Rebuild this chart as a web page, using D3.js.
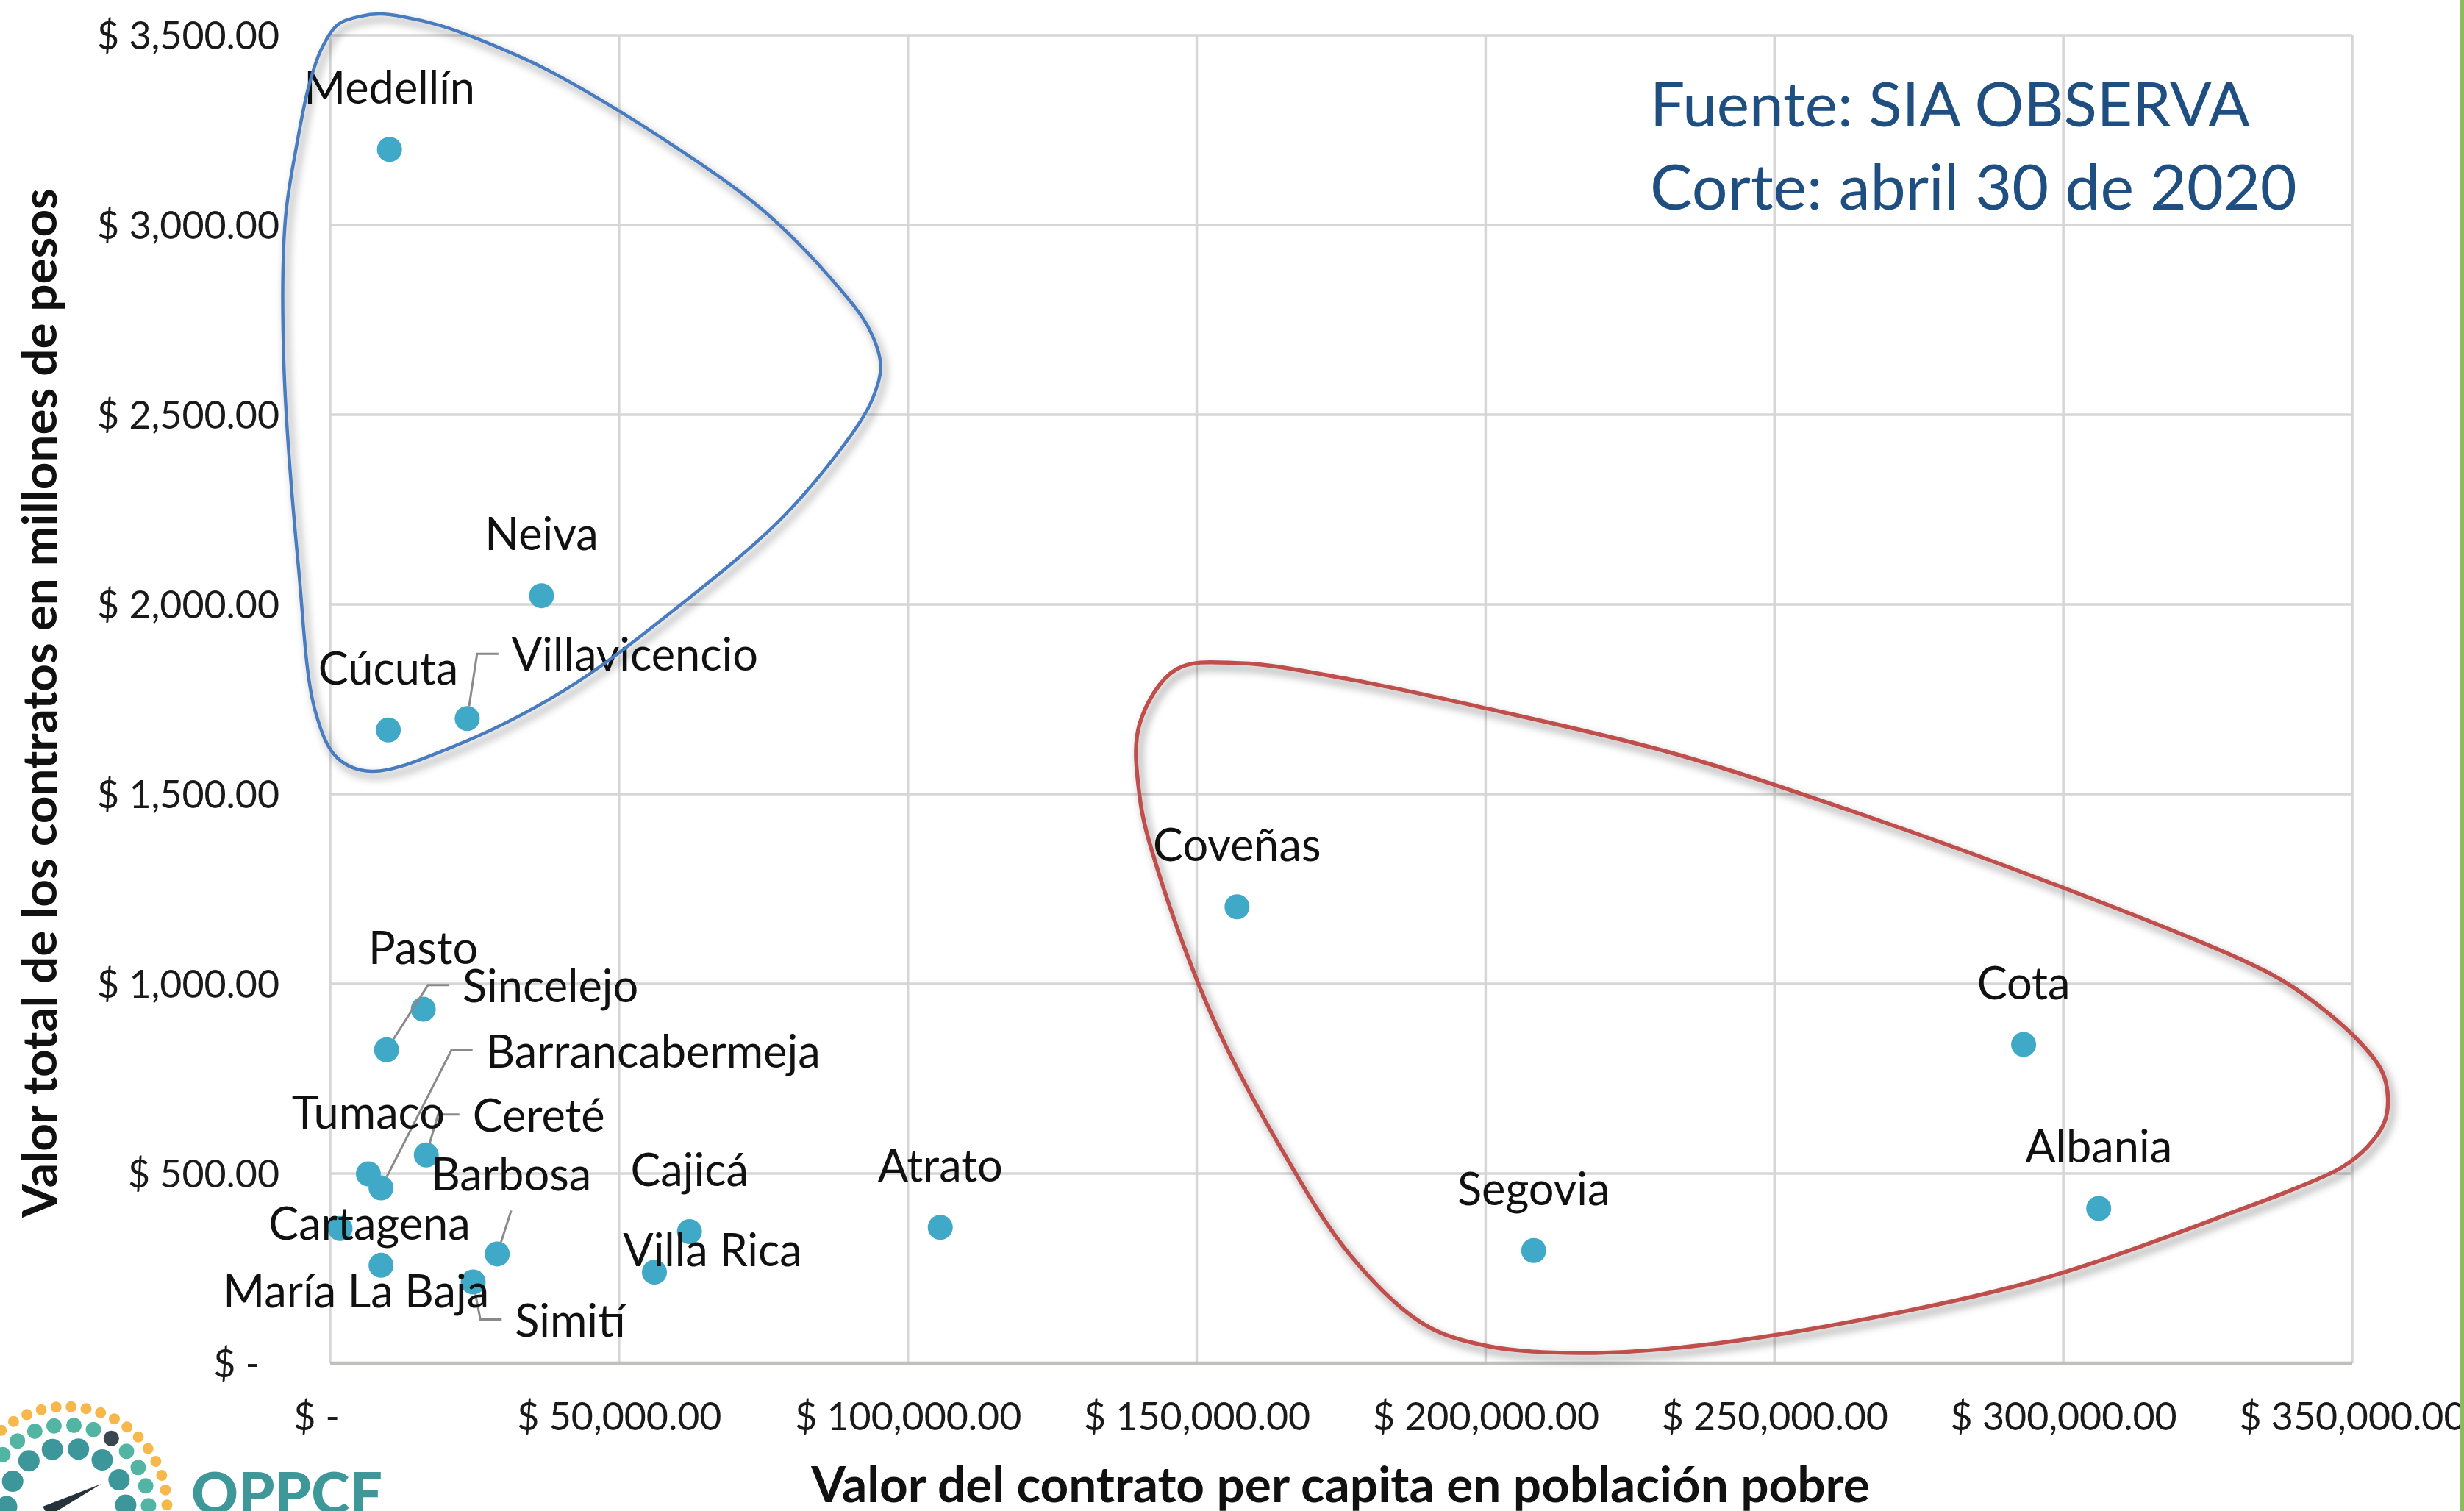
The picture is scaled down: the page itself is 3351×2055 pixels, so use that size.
<!DOCTYPE html>
<html><head><meta charset="utf-8">
<script src="https://cdn.jsdelivr.net/npm/d3@7"></script>
<style>
html,body{margin:0;padding:0;background:#fff;}
svg{display:block;}
text{font-family:Lato,"Open Sans",sans-serif;}
</style></head><body>
<svg id="chart" width="3351" height="2055"></svg>
<script>
// ---------------- DATA ----------------
const cities = ["Medellín","Neiva","Cúcuta","Villavicencio","Coveñas","Cota","Albania","Segovia","Atrato","Cajicá","Villa Rica","Pasto","Sincelejo","Barrancabermeja","Tumaco","Cereté","Barbosa","Cartagena","María La Baja","Simití"];
const perCapita  = [10268, 36586, 10064, 23720, 156968, 293121, 306115, 208318, 105605, 62191, 56127, 16115, 9758, 8803, 6611, 16637, 28917, 1720, 8803, 24752];
const totalValue = [3199, 2023, 1669, 1699, 1203, 840, 408, 297, 358, 347, 240, 933, 826, 462, 499, 549, 288, 355, 258, 214];

const xTicks = [0,50000,100000,150000,200000,250000,300000,350000];
const xTickLabels = ["$ -","$ 50,000.00","$ 100,000.00","$ 150,000.00","$ 200,000.00","$ 250,000.00","$ 300,000.00","$ 350,000.00"];
const yTicks = [0,500,1000,1500,2000,2500,3000,3500];
const yTickLabels = ["$ -","$ 500.00","$ 1,000.00","$ 1,500.00","$ 2,000.00","$ 2,500.00","$ 3,000.00","$ 3,500.00"];

const xTitle = "Valor del contrato per capita en población pobre";
const yTitle = "Valor total de los contratos en millones de pesos";
const sourceLines = ["Fuente: SIA OBSERVA","Corte: abril 30 de 2020"];
const logoText = "OPPCF";

// annotation loops (in data units)
const blueLoop = [[-1529,3463],[1401,3529],[5223,3550],[8662,3556],[12866,3548],[19236,3525],[25605,3490],[37070,3413],[50064,3300],[69555,3103],[76943,3012],[87134,2851],[93121,2731],[95287,2630],[94013,2547],[91465,2475],[78726,2236],[59746,1988],[40255,1771],[20765,1622],[7134,1560],[1274,1595],[-2548,1717],[-5478,2097],[-8026,2641],[-7771,3012],[-5860,3205],[-3694,3366]];
const redLoop = [[157581,1845],[176563,1802],[200385,1725],[232105,1609],[263825,1453],[303443,1233],[331339,1060],[339874,990],[350447,860],[355161,769],[356180,700],[355543,634],[352613,570],[348282,517],[339874,459],[331339,409],[295545,219],[255927,89],[232105,39],[216308,27],[200385,45],[189302,103],[176563,285],[163951,583],[152868,907],[143314,1297],[140129,1492],[140129,1686],[146499,1829]];

// ---------------- LAYOUT ----------------
const W = 3351, H = 2055;
const margin = {left:449, top:48, right:152, bottom:201};
const dotR = 17;
const defaultLabel = {dx:0, dy:-62};
const labelLayout = {
  "Villavicencio":   {dx:228,  dy:-65,  leader:"left"},
  "Sincelejo":       {dx:223,  dy:-65,  leader:"left"},
  "Barrancabermeja": {dx:370,  dy:-164, leader:"left"},
  "Cereté":          {dx:153,  dy:-32,  leader:"left"},
  "Barbosa":         {dx:19,   dy:-86,  leader:"bottom"},
  "Simití":          {dx:132,  dy:74,   leader:"left"},
  "Cartagena":       {dx:40,   dy:15},
  "María La Baja":   {dx:-34,  dy:57},
  "Villa Rica":      {dx:79,   dy:-8}
};

const svg = d3.select("#chart");
svg.append("rect").attr("width",W).attr("height",H).attr("fill","#fff");

const defs = svg.append("defs");
const f = defs.append("filter").attr("id","shadow").attr("x","-10%").attr("y","-10%").attr("width","130%").attr("height","130%");
f.append("feDropShadow").attr("dx",5).attr("dy",7).attr("stdDeviation",6).attr("flood-color","#000").attr("flood-opacity",0.45);

const x = d3.scaleLinear().domain([0,350000]).range([margin.left, W-margin.right]);
const y = d3.scaleLinear().domain([0,3500]).range([H-margin.bottom, margin.top]);

function fitWidth(sel, target){
  const w = sel.node().getComputedTextLength();
  const fs = parseFloat(sel.attr("font-size"));
  sel.attr("font-size", fs*target/w);
  return fs*target/w;
}
function measure(str, fs, weight){
  const t = svg.append("text").attr("font-size",fs).attr("font-weight",weight||400).text(str);
  const w = t.node().getComputedTextLength(); t.remove(); return w;
}

// gridlines
const grid = svg.append("g").attr("stroke","#d6d6d6").attr("stroke-width",3.5);
grid.selectAll("line.v").data(xTicks).join("line").attr("class","v")
  .attr("x1",d=>x(d)).attr("x2",d=>x(d)).attr("y1",y(3500)).attr("y2",y(0));
grid.selectAll("line.h").data(yTicks).join("line").attr("class","h")
  .attr("x1",x(0)).attr("x2",x(350000)).attr("y1",d=>y(d)).attr("y2",d=>y(d))
  .attr("stroke",d=>d===0?"#c4bfbf":"#d6d6d6").attr("stroke-width",d=>d===0?4.5:3.5);

// tick label font size
const tickFs = 52*248/measure("$ 3,500.00",52);

// axes
const xAxis = svg.append("g").attr("transform",`translate(0,${y(0)})`)
  .call(d3.axisBottom(x).tickValues(xTicks).tickFormat((d,i)=>xTickLabels[i]).tickSize(0).tickPadding(0));
xAxis.select(".domain").remove();
xAxis.selectAll("text").attr("font-family","Lato").attr("font-size",tickFs).attr("fill","#1a1a1a")
  .attr("y",91).attr("dy",0).attr("dx",d=>d===0?-19:0);

const yAxis = svg.append("g").attr("transform",`translate(${x(0)},0)`)
  .call(d3.axisLeft(y).tickValues(yTicks).tickFormat((d,i)=>yTickLabels[i]).tickSize(0).tickPadding(69));
yAxis.select(".domain").remove();
yAxis.selectAll("text").attr("font-family","Lato").attr("font-size",tickFs).attr("fill","#1a1a1a")
  .attr("dy","0.36em").attr("dx",d=>d===0?-27:0);

// points
const pts = cities.map((c,i)=>({name:c, px:perCapita[i], tv:totalValue[i]}));
svg.append("g").selectAll("circle").data(pts).join("circle")
  .attr("cx",d=>x(d.px)).attr("cy",d=>y(d.tv)).attr("r",dotR).attr("fill","#40a9c7");

// labels
const labFs = 54*455/measure("Barrancabermeja",54);
const leaders = svg.append("g").attr("fill","none").attr("stroke","#8a8a8a").attr("stroke-width",3);
const labels = svg.append("g").selectAll("text").data(pts).join("text")
  .attr("font-size",labFs).attr("fill","#111").attr("text-anchor","middle")
  .attr("x",d=>x(d.px)+(labelLayout[d.name]||defaultLabel).dx)
  .attr("y",d=>y(d.tv)+(labelLayout[d.name]||defaultLabel).dy)
  .text(d=>d.name);

labels.each(function(d){
  const L = labelLayout[d.name];
  if(!L || !L.leader) return;
  const bb = this.getBBox();
  const cx = x(d.px), cy = y(d.tv);
  const base = cy + L.dy;
  let pts2;
  if(L.leader==="left"){
    const ex = bb.x - 18, ey = base - 23, sx = ex - 29;
    const ang = Math.atan2(ey-cy, sx-cx);
    pts2 = [[ex,ey],[sx,ey],[cx+dotR*Math.cos(ang), cy+dotR*Math.sin(ang)]];
  } else {
    const sx = cx + L.dx, sy = base + 27;
    const ang = Math.atan2(sy-cy, sx-cx);
    pts2 = [[sx,sy],[cx+dotR*Math.cos(ang), cy+dotR*Math.sin(ang)]];
  }
  leaders.append("path").attr("d", d3.line()(pts2));
});

// loops
const loopLine = d3.line().x(d=>x(d[0])).y(d=>y(d[1])).curve(d3.curveCatmullRomClosed.alpha(0.5));
svg.append("path").attr("d",loopLine(blueLoop)).attr("fill","none").attr("stroke","#4a7bbf").attr("stroke-width",4.5).attr("filter","url(#shadow)");
svg.append("path").attr("d",loopLine(redLoop)).attr("fill","none").attr("stroke","#bf504d").attr("stroke-width",5.5).attr("filter","url(#shadow)");

// source text
const s1 = svg.append("text").attr("x",2244).attr("y",172).attr("font-size",80).attr("fill","#1f4e80").text(sourceLines[0]);
fitWidth(s1, 816);
const s2 = svg.append("text").attr("x",2244).attr("y",285).attr("font-size",80).attr("fill","#1f4e80").text(sourceLines[1]);
fitWidth(s2, 880);

// axis titles
const xt = svg.append("text").attr("x",1823).attr("y",2043).attr("text-anchor","middle")
  .attr("font-size",58).attr("font-weight",700).attr("fill","#111").text(xTitle);
fitWidth(xt,1440);
const yt = svg.append("text").attr("transform","translate(77,956) rotate(-90)").attr("text-anchor","middle")
  .attr("font-size",58).attr("font-weight",700).attr("fill","#111").text(yTitle);
fitWidth(yt,1400);

// right green stripe
svg.append("rect").attr("x",3345).attr("y",0).attr("width",6).attr("height",H).attr("fill","#8cba5e");

// logo (decorative)
const logo = svg.append("g");
const lc = [90,2050];
const ring = (r, a0, step, n, dr, color, special) => {
  for(let k=0;k<n;k++){
    const a = (a0 + step*k)*Math.PI/180;
    logo.append("circle").attr("cx",lc[0]+r*Math.cos(a)).attr("cy",lc[1]+r*Math.sin(a)).attr("r",dr)
      .attr("fill", special && special.includes(k) ? "#3a4650" : color);
  }
};
ring(137, -173, 8.58, 22, 7.5, "#f7b84b");
ring(112, -168, 13.9, 13, 10.5, "#52b5a4", [8]);
ring(81, -179.3, 25.3, 8, 14.5, "#3d9699");
logo.append("path").attr("d","M138,2018 L58,2049 L66,2062 Z").attr("fill","#25323b");
const lt = svg.append("text").attr("x",260).attr("font-size",80).attr("font-weight",900)
  .attr("fill","#3e9899").text(logoText);
const lfs = fitWidth(lt,260);
lt.attr("y",2002+0.72*lfs);
</script>
</body></html>
